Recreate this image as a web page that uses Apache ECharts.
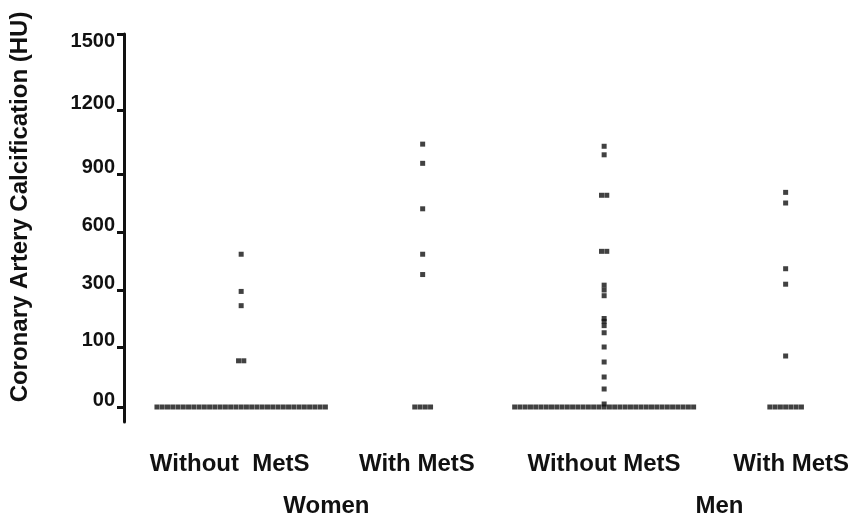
<!DOCTYPE html>
<html>
<head>
<meta charset="utf-8">
<script src="https://cdn.jsdelivr.net/npm/echarts@6/dist/echarts.min.js"></script>
<style>html,body{margin:0;padding:0;background:#fff;}#c{width:855px;height:520px;}</style>
</head>
<body>
<div id="c"></div>
<script>
// ---- data (HU values) ----
const categories = ['Without  MetS', 'With MetS', 'Without MetS', 'With MetS'];
const groups = ['Women', 'Men'];
const tickLabels = ['00', '100', '300', '600', '900', '1200', '1500'];
const tickHU = [0, 100, 300, 600, 900, 1200, 1500];

const womenWithout = [0,0,0,0,0,0,0,0,0,0,0,0,0,0,0,0,0,0,0,0,0,0,0,0,0,0,0,0,0,0,0,0,0,
  77, 77, 245, 295, 485];
const womenWith = [0,0,0,0, 380, 485, 720, 950, 1040];
const menWithout = [0,0,0,0,0,0,0,0,0,0,0,0,0,0,0,0,0,0,0,0,0,0,0,0,0,0,0,0,0,0,0,0,0,0,0,
  5, 30, 50, 75, 100, 150, 175, 190, 200, 280, 300, 325, 500, 500, 790, 790, 990, 1030];
const menWith = [0,0,0,0,0,0,0, 85, 330, 410, 750, 805];

// ---- axis scale: piecewise-linear (non-uniform) HU axis ----
const tickPos = [0, 60, 117, 175, 233, 297, 373];
function huToPos(v) {
  for (let i = 1; i < tickHU.length; i++) {
    if (v <= tickHU[i]) {
      const t = (v - tickHU[i - 1]) / (tickHU[i] - tickHU[i - 1]);
      return tickPos[i - 1] + t * (tickPos[i] - tickPos[i - 1]);
    }
  }
  return tickPos[tickPos.length - 1];
}
// dot-plot layout: equal values are spread side by side around the group centre
const STEP = 0.029;
function dotLayout(values, groupIndex) {
  const counts = {};
  values.forEach(v => { counts[v] = (counts[v] || 0) + 1; });
  const seen = {};
  return values.map(v => {
    const k = seen[v] = (seen[v] === undefined ? 0 : seen[v] + 1);
    const off = (k - (counts[v] - 1) / 2) * STEP;
    return [groupIndex + off, huToPos(v), v];
  });
}
const allGroups = [womenWithout, womenWith, menWithout, menWith];

const FONT = '"Liberation Sans", Arial, sans-serif';
const chart = echarts.init(document.getElementById('c'), null, {renderer: 'canvas'});
chart.setOption({
  backgroundColor: '#ffffff',
  animation: false,
  grid: {left: 122, right: 20, top: 34, bottom: 98, containLabel: false},
  xAxis: [
    {type: 'value', min: -0.6456, max: 3.272, show: false},
    {type: 'value', min: -0.565, max: 3.234, position: 'bottom',
     axisLine: {show: false}, axisTick: {show: false}, splitLine: {show: false},
     axisLabel: {customValues: [0, 1, 2, 3], formatter: v => categories[v], margin: 30,
       fontSize: 24, fontWeight: 'bold', color: '#111', fontFamily: FONT}},
    {type: 'value', min: -0.515, max: 1.294, position: 'bottom',
     axisLine: {show: false}, axisTick: {show: false}, splitLine: {show: false},
     axisLabel: {customValues: [0, 1], formatter: v => groups[v], margin: 72,
       fontSize: 24, fontWeight: 'bold', color: '#111', fontFamily: FONT}}
  ],
  yAxis: {
    type: 'value', min: -15, max: 373,
    name: 'Coronary Artery Calcification (HU)', nameLocation: 'middle', nameRotate: 90, nameGap: 92,
    nameTextStyle: {fontSize: 24, fontWeight: 'bold', color: '#111', fontFamily: FONT, padding: [0, 0, 0, 42]},
    axisLine: {show: true, onZero: false, lineStyle: {color: '#111', width: 3}},
    axisTick: {show: true, customValues: tickPos, length: 7, lineStyle: {color: '#111', width: 3}},
    splitLine: {show: false},
    axisLabel: {
      customValues: tickPos, margin: 9,
      fontSize: 20, fontWeight: 'bold', color: '#111', fontFamily: FONT, lineHeight: 14,
      formatter: v => {
        const i = tickPos.indexOf(v);
        return i === tickPos.length - 1 ? '\n' + tickLabels[i] : tickLabels[i] + '\n';
      }
    }
  },
  series: allGroups.map((vals, gi) => ({
    type: 'scatter', xAxisIndex: 0, yAxisIndex: 0,
    symbol: 'rect', symbolSize: 5,
    itemStyle: {color: '#111'},
    data: dotLayout(vals, gi)
  }))
});
</script>
</body>
</html>
